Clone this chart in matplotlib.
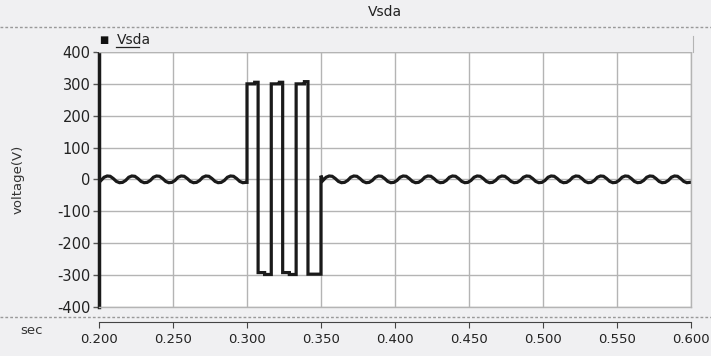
import numpy as np
import matplotlib
matplotlib.use('Agg')
import matplotlib.pyplot as plt
from matplotlib.lines import Line2D

plt.rcParams['axes.unicode_minus'] = False

# ripple on the line voltage (60 Hz), one cycle, starting at a peak
ripple_period = 1 / 60
ripple_shape = [11, 10, 3, -6, -10, -9, -3, 7]
ripple_peak0 = 0.2055

# switching burst between 0.300 and 0.350 s
sw_times = [0.3000, 0.3052, 0.3075, 0.3119, 0.3164, 0.3219, 0.3241, 0.3286, 0.3332, 0.3388, 0.3412, 0.3500]
sw_levels = [300, 305, -292, -298, 300, 305, -292, -298, 300, 307, -297, 12]

x_ticks = [0.200, 0.250, 0.300, 0.350, 0.400, 0.450, 0.500, 0.550, 0.600]
y_ticks = [-400, -300, -200, -100, 0, 100, 200, 300, 400]

W, H = 711, 356
BG = '#f0f0f2'
GRID = '#b4b4b4'

# build the trace
n = len(ripple_shape)
step = ripple_period / n
k = np.arange(-n, 40 * n)
rt = ripple_peak0 + k * step
rv = np.array([ripple_shape[i % n] for i in k])

pre = (rt >= 0.2) & (rt < sw_times[0])
post = (rt > sw_times[-1]) & (rt <= 0.6)

t = list(rt[pre])
v = list(rv[pre])
prev = v[-1]
for ti, lv in zip(sw_times, sw_levels):
    t += [ti, ti]
    v += [prev, lv]
    prev = lv
t += list(rt[post])
v += list(rv[post])

fig = plt.figure(figsize=(W / 100, H / 100), dpi=100, facecolor=BG)

ax = fig.add_axes([99 / W, (H - 307) / H, 592 / W, 255 / H])
ax.set_facecolor('white')
ax.plot(t, v, color='#1a1a1a', lw=2.3, solid_joinstyle='miter')
ax.set_xlim(0.2, 0.6)
ax.set_ylim(-400, 400)
ax.set_xticks(x_ticks)
ax.set_yticks(y_ticks)
ax.set_xticklabels([])
ax.tick_params(axis='x', length=0)
ax.tick_params(axis='y', direction='out', length=4, width=1, color='#555555',
               labelsize=10.5, labelcolor='#222222', pad=2)
ax.grid(True, color=GRID, lw=1)
for s in ['top', 'right', 'bottom']:
    ax.spines[s].set_color(GRID)
    ax.spines[s].set_linewidth(1)
ax.spines['left'].set_color('#1a1a1a')
ax.spines['left'].set_linewidth(2.5)
ax.set_ylabel('voltage(V)', fontsize=9.5, color='#333333')
ax.yaxis.set_label_coords(-0.125, 0.5)

# legend strip above the plot
leg = fig.add_axes([97 / W, (H - 52) / H, 596 / W, 16 / H])
leg.set_facecolor(BG)
leg.set_xticks([])
leg.set_yticks([])
for s in ['top', 'left', 'bottom']:
    leg.spines[s].set_visible(False)
leg.spines['right'].set_color(GRID)
fig.text(104 / W, 1 - 40 / H, '\u25a0', fontsize=7, color='#111111', ha='center', va='center')
fig.text(117 / W, 1 - 40 / H, 'Vsda', fontsize=10, color='#222222', ha='left', va='center')
fig.add_artist(Line2D([116 / W, 139 / W], [1 - 47 / H, 1 - 47 / H], color='#222222', lw=0.9))

# title bar
fig.text(385 / W, 1 - 12 / H, 'Vsda', fontsize=10, color='#222222', ha='center', va='center')
fig.add_artist(Line2D([0, 1], [1 - 27 / H, 1 - 27 / H], color='#999999', lw=1, ls=(0, (2, 1.5))))
fig.add_artist(Line2D([0, 1], [1 - 317 / H, 1 - 317 / H], color='#999999', lw=1, ls=(0, (2, 1.5))))

# time axis below
xa = fig.add_axes([99 / W, (H - 322) / H, 592 / W, 0.5 / H])
xa.set_facecolor('none')
xa.set_xlim(0.2, 0.6)
xa.set_yticks([])
xa.set_xticks(x_ticks)
xa.set_xticklabels(['%.3f' % x for x in x_ticks])
for s in ['left', 'right', 'bottom']:
    xa.spines[s].set_visible(False)
xa.spines['top'].set_color('#444444')
xa.tick_params(axis='x', direction='out', length=4, color='#444444',
               labelsize=9.5, labelcolor='#222222', pad=4)
fig.text(32 / W, 1 - 330 / H, 'sec', fontsize=9.5, color='#333333', ha='center', va='center')

fig.savefig('out.png', dpi=100, facecolor=BG)
